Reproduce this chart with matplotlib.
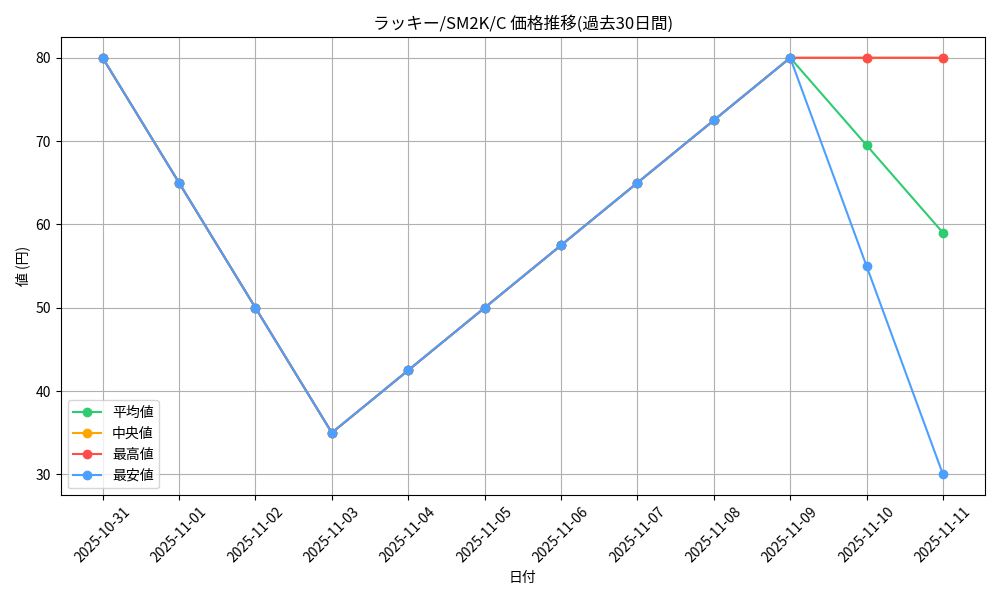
import matplotlib
matplotlib.use("Agg")
import matplotlib.pyplot as plt

plt.rcParams['font.family'] = ['Noto Sans CJK JP', 'DejaVu Sans']

dates = ["2025-10-31", "2025-11-01", "2025-11-02", "2025-11-03", "2025-11-04", "2025-11-05",
         "2025-11-06", "2025-11-07", "2025-11-08", "2025-11-09", "2025-11-10", "2025-11-11"]
avg_price = [80, 65, 50, 35, 42.5, 50, 57.5, 65, 72.5, 80, 69.5, 59]
median_price = [80, 65, 50, 35, 42.5, 50, 57.5, 65, 72.5, 80, 80, 80]
max_price = [80, 65, 50, 35, 42.5, 50, 57.5, 65, 72.5, 80, 80, 80]
min_price = [80, 65, 50, 35, 42.5, 50, 57.5, 65, 72.5, 80, 55, 30]

plt.figure(figsize=(10, 6))
plt.plot(dates, avg_price, marker='o', color="#2ecc71", label="平均値")
plt.plot(dates, median_price, marker='o', color="#ffa500", label="中央値")
plt.plot(dates, max_price, marker='o', color="#ff4d4d", label="最高値")
plt.plot(dates, min_price, marker='o', color="#4d9fff", label="最安値")
plt.title("ラッキー/SM2K/C 価格推移(過去30日間)")
plt.xlabel("日付")
plt.ylabel("値 (円)")
plt.xticks(rotation=45)
plt.grid(True)
plt.legend(loc="lower left")
plt.tight_layout()
plt.savefig("out.png", dpi=100)
